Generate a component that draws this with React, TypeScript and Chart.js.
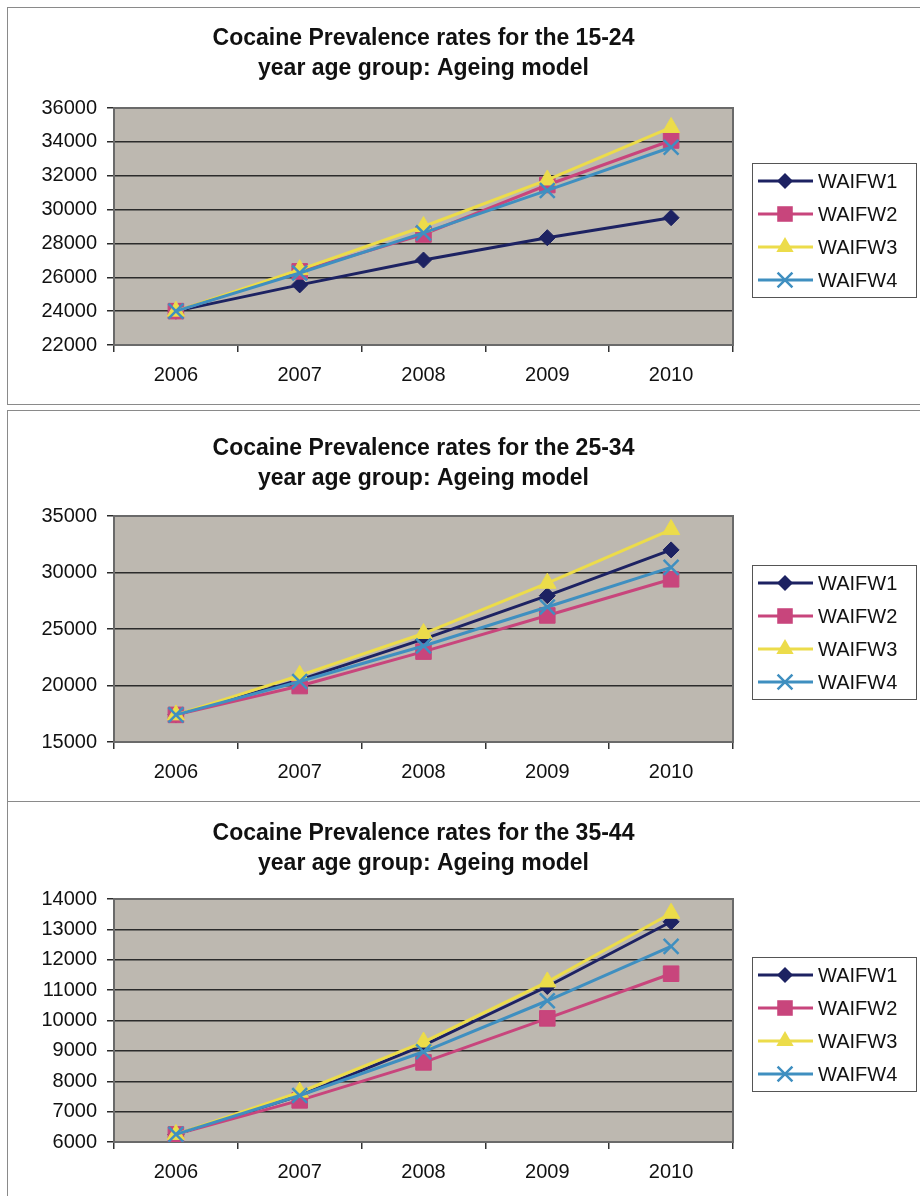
import React, { useEffect, useRef } from "react";
import { Chart, registerables } from "chart.js";

Chart.register(...registerables);

// ---------- data ----------
const years = ["2006", "2007", "2008", "2009", "2010"];
const seriesNames = ["WAIFW1", "WAIFW2", "WAIFW3", "WAIFW4"];

const title1524 = ["Cocaine Prevalence rates for the 15-24", "year age group: Ageing model"];
const w1_1524 = [24000, 25550, 27020, 28340, 29520];
const w2_1524 = [24000, 26350, 28530, 31450, 34080];
const w3_1524 = [24000, 26450, 29000, 31750, 34850];
const w4_1524 = [24000, 26250, 28620, 31130, 33680];
const yAxis1524 = [22000, 36000, 2000]; // min, max, step

const title2534 = ["Cocaine Prevalence rates for the 25-34", "year age group: Ageing model"];
const w1_2534 = [17400, 20500, 24100, 27950, 32000];
const w2_2534 = [17400, 19950, 23000, 26200, 29400];
const w3_2534 = [17400, 20900, 24600, 29050, 33800];
const w4_2534 = [17400, 20350, 23500, 26950, 30450];
const yAxis2534 = [15000, 35000, 5000];

const title3544 = ["Cocaine Prevalence rates for the 35-44", "year age group: Ageing model"];
const w1_3544 = [6250, 7530, 9180, 11120, 13250];
const w2_3544 = [6250, 7370, 8620, 10070, 11540];
const w3_3544 = [6250, 7640, 9290, 11270, 13530];
const w4_3544 = [6250, 7530, 8970, 10650, 12440];
const yAxis3544 = [6000, 14000, 1000];

// ---------- styles ----------
const FONT = "'Liberation Sans', Arial, Helvetica, sans-serif";
const COLORS = ["#1d2262", "#c8457c", "#ecdc4a", "#3f8fc0"];
const STYLES = ["rectRot", "rect", "triangle", "crossRot"];
const RADII = [8, 11, 10, 10.5];
const PLOT_BG = "#bdb8b0";

type Cfg = {
  top: number;
  height: number;
  title: string[];
  series: number[][];
  yAxis: number[];
  titlePadTop: number;
  titlePadBottom: number;
  xAxisH: number;
};

const charts: Cfg[] = [
  { top: 7, height: 397, title: title1524, series: [w1_1524, w2_1524, w3_1524, w4_1524], yAxis: yAxis1524, titlePadTop: 17, titlePadBottom: 24, xAxisH: 59 },
  { top: 410, height: 391, title: title2534, series: [w1_2534, w2_2534, w3_2534, w4_2534], yAxis: yAxis2534, titlePadTop: 24, titlePadBottom: 22, xAxisH: 59 },
  { top: 801, height: 395, title: title3544, series: [w1_3544, w2_3544, w3_3544, w4_3544], yAxis: yAxis3544, titlePadTop: 18, titlePadBottom: 20, xAxisH: 54 },
];

function drawMarker(ctx: CanvasRenderingContext2D, i: number, x: number, y: number) {
  const c = COLORS[i];
  ctx.save();
  ctx.fillStyle = c;
  ctx.strokeStyle = c;
  ctx.beginPath();
  if (i === 0) {
    const r = RADII[0];
    ctx.moveTo(x - r, y);
    ctx.lineTo(x, y - r);
    ctx.lineTo(x + r, y);
    ctx.lineTo(x, y + r);
    ctx.closePath();
    ctx.fill();
  } else if (i === 1) {
    const s = RADII[1] * Math.SQRT1_2;
    ctx.rect(x - s, y - s, 2 * s, 2 * s);
    ctx.fill();
  } else if (i === 2) {
    const r = RADII[2];
    let a = 0;
    ctx.moveTo(x + Math.sin(a) * r, y - Math.cos(a) * r);
    a += (2 * Math.PI) / 3;
    ctx.lineTo(x + Math.sin(a) * r, y - Math.cos(a) * r);
    a += (2 * Math.PI) / 3;
    ctx.lineTo(x + Math.sin(a) * r, y - Math.cos(a) * r);
    ctx.closePath();
    ctx.fill();
  } else {
    const d = RADII[3] * Math.SQRT1_2;
    ctx.lineWidth = 2.5;
    ctx.moveTo(x - d, y - d);
    ctx.lineTo(x + d, y + d);
    ctx.moveTo(x + d, y - d);
    ctx.lineTo(x - d, y + d);
    ctx.stroke();
  }
  ctx.restore();
}

const framePlugin = {
  id: "excelFrame",
  beforeDraw(chart: any) {
    const { ctx, chartArea: a } = chart;
    ctx.save();
    ctx.fillStyle = PLOT_BG;
    ctx.fillRect(a.left, a.top, a.right - a.left, a.bottom - a.top);
    ctx.restore();
  },
  beforeDatasetsDraw(chart: any) {
    const { ctx, chartArea: a } = chart;
    ctx.save();
    ctx.strokeStyle = "#6a6a6a";
    ctx.lineWidth = 2;
    ctx.strokeRect(a.left, a.top, a.right - a.left, a.bottom - a.top);
    ctx.restore();
  },
  afterDraw(chart: any) {
    const { ctx, chartArea: a } = chart;
    const h = 134;
    const left = 752;
    const right = 916;
    const top = Math.round((a.top + a.bottom) / 2 + 3 - h / 2);
    ctx.save();
    ctx.fillStyle = "#ffffff";
    ctx.fillRect(left, top, right - left, h);
    ctx.strokeStyle = "#555555";
    ctx.lineWidth = 1;
    ctx.strokeRect(left + 0.5, top + 0.5, right - left, h);
    ctx.font = `20px ${FONT}`;
    ctx.textBaseline = "middle";
    ctx.textAlign = "left";
    seriesNames.forEach((name, i) => {
      const y = top + 18 + i * 33;
      ctx.strokeStyle = COLORS[i];
      ctx.lineWidth = 3;
      ctx.beginPath();
      ctx.moveTo(758, y);
      ctx.lineTo(813, y);
      ctx.stroke();
      drawMarker(ctx, i, 785, y);
      ctx.fillStyle = "#111111";
      ctx.fillText(name, 818, y + 1);
    });
    ctx.restore();
  },
};

function LineChart({ cfg }: { cfg: Cfg }) {
  const ref = useRef<HTMLCanvasElement>(null);
  useEffect(() => {
    if (!ref.current) return;
    const [ymin, ymax, ystep] = cfg.yAxis;
    const chart = new Chart(ref.current, {
      type: "line",
      data: {
        labels: years,
        datasets: cfg.series.map((vals, i) => ({
          label: seriesNames[i],
          data: vals,
          borderColor: COLORS[i],
          backgroundColor: COLORS[i],
          borderWidth: 3,
          pointStyle: STYLES[i] as any,
          pointRadius: RADII[i],
          pointHoverRadius: RADII[i],
          pointBackgroundColor: COLORS[i],
          pointBorderColor: COLORS[i],
          pointBorderWidth: i === 3 ? 2.5 : 1,
          tension: 0,
          fill: false,
          order: 3 - i,
        })),
      },
      options: {
        responsive: false,
        animation: false,
        events: [],
        layout: { padding: { left: 0, right: 187, top: 0, bottom: 0 } },
        plugins: {
          legend: { display: false },
          tooltip: { enabled: false },
          title: {
            display: true,
            text: cfg.title,
            fullSize: false,
            color: "#111111",
            font: { family: FONT, size: 23, weight: "bold", lineHeight: 30 / 23 },
            padding: { top: cfg.titlePadTop, bottom: cfg.titlePadBottom },
          },
        },
        scales: {
          x: {
            type: "category",
            offset: true,
            grid: {
              display: true,
              drawOnChartArea: false,
              drawTicks: true,
              tickLength: 7,
              offset: true,
              color: "#333333",
              lineWidth: 1.5,
            },
            border: { display: true, color: "#222222", width: 2 },
            ticks: {
              color: "#111111",
              font: { family: FONT, size: 20 },
              padding: 11,
              maxRotation: 0,
              autoSkip: false,
            },
            afterFit: (s: any) => {
              s.height = cfg.xAxisH;
            },
          },
          y: {
            min: ymin,
            max: ymax,
            grid: { color: "#2b2b2b", lineWidth: 1.5, tickLength: 7, drawTicks: true },
            border: { display: true, color: "#222222", width: 2 },
            ticks: {
              stepSize: ystep,
              color: "#111111",
              font: { family: FONT, size: 20 },
              padding: 10,
              callback: (v: any) => String(v),
            },
            afterFit: (s: any) => {
              s.width = 114;
            },
          },
        },
      },
      plugins: [framePlugin],
    });
    return () => chart.destroy();
  }, [cfg]);
  return (
    <canvas
      ref={ref}
      width={920}
      height={cfg.height}
      style={{ position: "absolute", left: 0, top: cfg.top, width: 920, height: cfg.height }}
    />
  );
}

export default function App() {
  const box = (top: number, height: number) => ({
    position: "absolute" as const,
    left: 7,
    top,
    width: 960,
    height,
    border: "1px solid #8a8a8a",
    boxSizing: "border-box" as const,
  });
  return (
    <div
      style={{
        position: "absolute",
        left: 0,
        top: 0,
        width: 920,
        height: 1196,
        overflow: "hidden",
        background: "#ffffff",
      }}
    >
      <div style={box(7, 398)} />
      <div style={box(410, 392)} />
      <div style={box(801, 420)} />
      {charts.map((c, i) => (
        <LineChart key={i} cfg={c} />
      ))}
    </div>
  );
}
